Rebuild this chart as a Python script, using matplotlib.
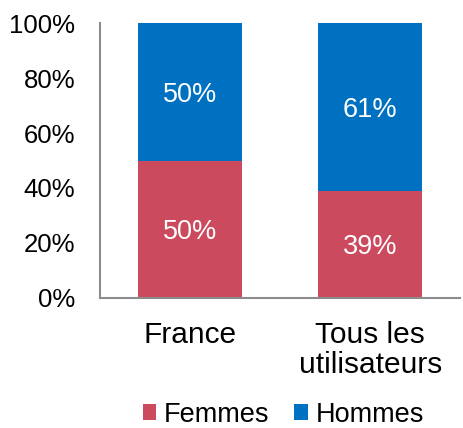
import matplotlib.pyplot as plt

plt.rcParams['font.family'] = ['Liberation Sans', 'DejaVu Sans']

categories = ['France', 'Tous les\nutilisateurs']
femmes = [50, 39]
hommes = [50, 61]
red = '#CC4A5E'
blue = '#0070C0'

fig = plt.figure(figsize=(4.63, 4.28), dpi=100)
ax = fig.add_axes([0.216, 0.304, 0.778, 0.642])

x = range(len(categories))
b1 = ax.bar(x, femmes, width=0.58, color=red, label='Femmes')
b2 = ax.bar(x, hommes, width=0.58, bottom=femmes, color=blue, label='Hommes')

# percentage labels inside each segment
for bars, vals, base in [(b1, femmes, [0, 0]), (b2, hommes, femmes)]:
    for rect, v, b in zip(bars, vals, base):
        ax.text(rect.get_x() + rect.get_width() / 2, b + v / 2 - 1, f'{v}%',
                ha='center', va='center', color='white', fontsize=19.5)

ax.set_xlim(-0.5, 1.5)
ax.set_ylim(0, 100)
ax.set_yticks(range(0, 101, 20))
ax.set_yticklabels([f'{t}%' for t in range(0, 101, 20)], fontsize=18.5)
ax.set_xticks(list(x))
ax.set_xticklabels(categories, fontsize=21.5, linespacing=1.08)
ax.tick_params(length=0, pad=17)
ax.tick_params(axis='y', pad=18)

for s in ['top', 'right']:
    ax.spines[s].set_visible(False)
for s in ['left', 'bottom']:
    ax.spines[s].set_color('#8c8c8c')
    ax.spines[s].set_linewidth(1.5)

fig.legend(handles=[b1, b2], loc='center', bbox_to_anchor=(0.612, 0.031), ncol=2,
           frameon=False, fontsize=19.5, handlelength=0.5, handleheight=0.5,
           handletextpad=0.3, columnspacing=0.9, borderpad=0)

plt.savefig('out.png', dpi=100)
